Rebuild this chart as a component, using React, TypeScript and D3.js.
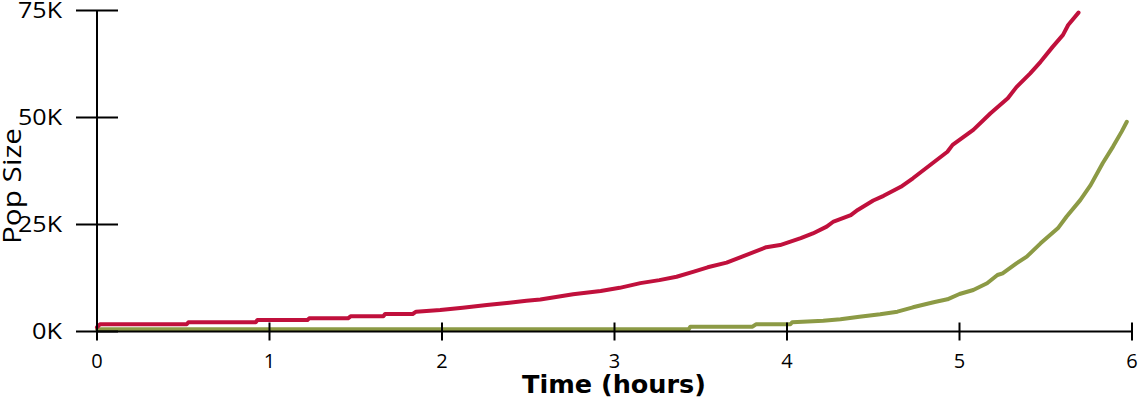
import React from "react";
import * as d3 from "d3";

// Time in hours, population in thousands
const redTimes = [0, 0.017, 0.52, 0.53, 0.92, 0.93, 1.22, 1.23, 1.455, 1.47, 1.66, 1.67, 1.83, 1.85, 1.99, 2.12, 2.26, 2.39, 2.49, 2.57, 2.67, 2.76, 2.92, 3.03, 3.15, 3.26, 3.36, 3.46, 3.54, 3.65, 3.74, 3.88, 3.96, 4.08, 4.15, 4.23, 4.27, 4.37, 4.41, 4.5, 4.56, 4.66, 4.73, 4.83, 4.93, 4.96, 5.08, 5.18, 5.28, 5.33, 5.41, 5.47, 5.54, 5.6, 5.63, 5.69];
const redValues = [1.0, 1.68, 1.68, 2.15, 2.15, 2.69, 2.69, 3.08, 3.08, 3.55, 3.55, 4.09, 4.09, 4.63, 5.0, 5.56, 6.19, 6.73, 7.2, 7.5, 8.1, 8.7, 9.46, 10.2, 11.3, 12.0, 12.8, 14.0, 15.0, 16.1, 17.5, 19.7, 20.2, 21.8, 22.9, 24.5, 25.7, 27.2, 28.4, 30.6, 31.7, 33.8, 35.8, 38.9, 42.0, 43.6, 47.1, 51.0, 54.5, 57.1, 60.3, 63.0, 66.5, 69.3, 71.6, 74.5];

const greenTimes = [0, 3.43, 3.44, 3.8, 3.82, 4.02, 4.03, 4.21, 4.31, 4.42, 4.54, 4.64, 4.73, 4.85, 4.93, 5.0, 5.08, 5.16, 5.22, 5.25, 5.33, 5.39, 5.47, 5.57, 5.62, 5.7, 5.76, 5.83, 5.89, 5.94, 5.97];
const greenValues = [0.51, 0.51, 1.12, 1.12, 1.68, 1.68, 2.15, 2.52, 2.85, 3.46, 4.02, 4.63, 5.65, 6.82, 7.52, 8.76, 9.7, 11.26, 13.2, 13.6, 15.9, 17.5, 20.6, 24.1, 26.8, 30.7, 34.2, 39.3, 43.2, 46.7, 49.0];

const xTicks = [0, 1, 2, 3, 4, 5, 6];
const yTicks = [0, 25, 50, 75];
const xTitle = "Time (hours)";
const yTitle = "Pop Size";

const W = 1139;
const H = 403;

export default function App() {
  const x = d3.scaleLinear().domain([0, 6]).range([97, 1132]);
  const y = d3.scaleLinear().domain([0, 75]).range([331.5, 10.5]);
  const line = d3
    .line<[number, number]>()
    .x((d) => x(d[0]))
    .y((d) => y(d[1]));
  const red: [number, number][] = redTimes.map((t, i) => [t, redValues[i]]);
  const green: [number, number][] = greenTimes.map((t, i) => [t, greenValues[i]]);
  const tickFont = "'Open Sans', 'Noto Sans', sans-serif";

  return (
    <svg
      width={W}
      height={H}
      style={{ position: "absolute", left: 0, top: 0, display: "block", background: "#fff" }}
    >
      <path d={line(green) || ""} fill="none" stroke="#8c9a45" strokeWidth={4} strokeLinejoin="round" strokeLinecap="round" />
      <path d={line(red) || ""} fill="none" stroke="#c0103c" strokeWidth={4} strokeLinejoin="round" strokeLinecap="round" />

      {/* Y axis */}
      <line x1={x(0)} x2={x(0)} y1={y(75)} y2={y(0)} stroke="#000" strokeWidth={2} />
      {yTicks.map((t) => {
        const label = t + "K";
        return (
          <g key={"y" + t}>
            <line x1={x(0) - 21} x2={x(0) + 21} y1={y(t)} y2={y(t)} stroke="#000" strokeWidth={2} />
            <text
              x={62}
              y={y(t)}
              dy="0.36em"
              textAnchor="end"
              fontFamily={tickFont}
              fontSize={21.5}
              fill="#000"
              textLength={(label.length - 1) * 14 + 16}
              lengthAdjust="spacingAndGlyphs"
            >
              {label}
            </text>
          </g>
        );
      })}

      {/* X axis */}
      <line x1={x(0)} x2={x(6)} y1={y(0)} y2={y(0)} stroke="#000" strokeWidth={2} />
      {xTicks.map((t) => (
        <g key={"x" + t}>
          <line x1={x(t)} x2={x(t)} y1={y(0) - 9} y2={y(0) + 9} stroke="#000" strokeWidth={2} />
          <text x={x(t)} y={368} textAnchor="middle" fontFamily={tickFont} fontSize={20} fill="#000">
            {t}
          </text>
        </g>
      ))}

      <text x={614} y={393} textAnchor="middle" fontFamily="'DejaVu Sans', Verdana, sans-serif" fontWeight="bold" fontSize={24} fill="#000" textLength={184} lengthAdjust="spacingAndGlyphs">
        {xTitle}
      </text>
      <text
        transform={`translate(21,186) rotate(-90)`}
        textAnchor="middle"
        fontFamily={tickFont}
        fontSize={25}
        fill="#000"
        textLength={116}
        lengthAdjust="spacingAndGlyphs"
      >
        {yTitle}
      </text>
    </svg>
  );
}
